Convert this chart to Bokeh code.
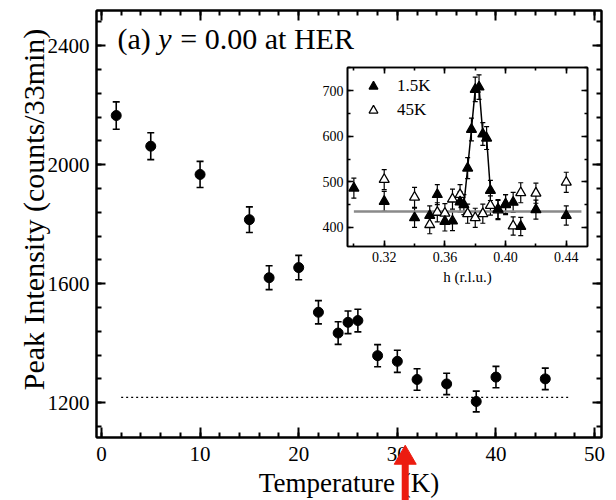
import numpy as np
from math import pi
from bokeh.plotting import figure
from bokeh.models import (ColumnDataSource, Whisker, TeeHead, LinearAxis, SingleIntervalTicker,
                          Label, Legend, LegendItem, PrintfTickFormatter)
from bokeh.embed import file_html
from bokeh.resources import INLINE
from bokeh.core.properties import value

# ---------------- data: main panel ----------------
temperature = [1.5, 5, 10, 15, 17, 20, 22, 24, 25, 26, 28, 30, 32, 35, 38, 40, 45]
intensity = [2165, 2062, 1967, 1815, 1620, 1654, 1504, 1434, 1470, 1476, 1358, 1339,
             1278, 1263, 1204, 1286, 1280]
intensity_err = [46, 45, 44, 43, 40, 41, 39, 38, 38, 38, 37, 37, 36, 36, 35, 36, 36]
background_T = [2, 47.5]
background_level = [1218, 1218]
transition_T = 30.8

# ---------------- data: inset ----------------
h_15K = [0.300, 0.320, 0.340, 0.350, 0.355, 0.360, 0.365, 0.370, 0.3725, 0.375, 0.3775,
         0.380, 0.3825, 0.385, 0.3875, 0.390, 0.395, 0.400, 0.405, 0.410, 0.420, 0.440]
cnt_15K = [486, 457, 421, 426, 472, 413, 414, 456, 450, 530, 615,
           703, 708, 605, 596, 481, 440, 450, 455, 402, 439, 426]
err_15K = [22, 22, 21, 21, 22, 21, 21, 22, 22, 23, 25,
           27, 27, 25, 25, 22, 21, 22, 22, 20, 21, 21]
h_45K = [0.320, 0.340, 0.350, 0.355, 0.360, 0.365, 0.370, 0.375, 0.380, 0.385, 0.390,
         0.395, 0.400, 0.405, 0.410, 0.420, 0.440]
cnt_45K = [505, 466, 406, 433, 431, 462, 472, 430, 421, 430, 448,
           438, 451, 403, 476, 475, 499]
err_45K = [22, 22, 20, 21, 21, 22, 22, 21, 21, 21, 21,
           21, 21, 20, 22, 22, 22]
inset_bg_h = [0.30, 0.45]
inset_bg_level = [435, 435]

FONT = "Liberation Serif"
RED = "#ec1c10"

# main frame geometry (pixels) and ranges
W, H = 616, 500
BL, BR, BT, BB = 96, 15, 10, 60
XR = (-0.5, 50.7)
YR = (1083, 2518)


def style_axis(ax, fs, tick_in, minor_in, lw, standoff):
    ax.major_tick_in = tick_in
    ax.major_tick_out = 0
    ax.minor_tick_in = minor_in
    ax.minor_tick_out = 0
    ax.axis_line_width = lw
    ax.axis_line_color = "black"
    ax.major_tick_line_width = lw
    ax.minor_tick_line_width = lw
    ax.major_tick_line_color = "black"
    ax.minor_tick_line_color = "black"
    ax.major_label_text_font = FONT
    ax.major_label_text_font_size = fs
    ax.major_label_text_color = "black"
    ax.major_label_standoff = standoff
    ax.axis_label_text_font = FONT
    ax.axis_label_text_font_style = "normal"
    ax.axis_label_text_color = "black"


def mirror(fig, ticker, side, tick_in, minor_in, lw):
    ax = LinearAxis(ticker=ticker)
    style_axis(ax, "0px", tick_in, minor_in, lw, 0)
    ax.major_label_text_alpha = 0
    fig.add_layout(ax, side)


# ---------------- main figure ----------------
p = figure(width=W, height=H, x_range=XR, y_range=YR,
           min_border_left=BL, min_border_right=BR, min_border_top=BT, min_border_bottom=BB,
           output_backend="svg", toolbar_location=None,
           background_fill_color="white", border_fill_color="white")
p.grid.visible = False
p.outline_line_color = "black"
p.outline_line_width = 2

p.xaxis.ticker = SingleIntervalTicker(interval=10, num_minor_ticks=5)
p.yaxis.ticker = SingleIntervalTicker(interval=400, num_minor_ticks=5)
style_axis(p.xaxis[0], "21px", 10, 5, 2, 9)
style_axis(p.yaxis[0], "21px", 9, 5, 2, 7)
p.xaxis.axis_label = "Temperature (K)"
p.xaxis.axis_label_text_font_size = "27px"
p.xaxis.axis_label_standoff = 4
mirror(p, SingleIntervalTicker(interval=10, num_minor_ticks=5), "above", 10, 5, 2)
mirror(p, SingleIntervalTicker(interval=400, num_minor_ticks=5), "right", 9, 5, 2)

src = ColumnDataSource(dict(
    x=temperature, y=intensity,
    lo=np.array(intensity) - np.array(intensity_err),
    hi=np.array(intensity) + np.array(intensity_err)))

p.line(background_T, background_level, line_color="black", line_width=1.3, line_dash="2 3")
p.add_layout(Whisker(base="x", lower="lo", upper="hi", source=src, line_width=1.6,
                     upper_head=TeeHead(size=7, line_width=1.6),
                     lower_head=TeeHead(size=7, line_width=1.6)))
p.scatter("x", "y", source=src, marker="circle", size=10, color="black")

# panel title
p.add_layout(Label(x=1.62, y=2368, text="(a)", text_font=FONT, text_font_size="30px",
                   text_color="black"))
p.add_layout(Label(x=5.75, y=2368, text="y", text_font=FONT, text_font_size="30px",
                   text_font_style="italic", text_color="black"))
p.add_layout(Label(x=8.0, y=2368, text="= 0.00 at HER", text_font=FONT,
                   text_font_size="30px", text_color="black"))

# ---------------- overlay sharing the main data coordinates over the whole canvas ----------------
kx = (XR[1] - XR[0]) / (W - BL - BR)
ky = (YR[1] - YR[0]) / (H - BT - BB)
ov = figure(width=W, height=H, x_range=(XR[0] - BL * kx, XR[1] + BR * kx),
            y_range=(YR[0] - BB * ky, YR[1] + BT * ky),
            min_border=0, x_axis_location=None, y_axis_location=None,
            output_backend="svg", toolbar_location=None,
            background_fill_alpha=0, border_fill_alpha=0, outline_line_alpha=0,
            styles={"position": "absolute", "left": "0px", "top": "0px"})
ov.grid.visible = False
# y-axis title
ov.text(x=[-6.9], y=[1854], text=["Peak Intensity (counts/33min)"], angle=pi / 2,
        text_align="center", text_baseline="middle", text_font=value(FONT),
        text_font_size=value("30px"), text_color="black")
# red arrow marking the transition temperature
ov.segment(x0=[transition_T], y0=[870], x1=[transition_T], y1=[1010],
           line_color=RED, line_width=7)
ov.scatter(x=[transition_T], y=[1025], marker="triangle", size=22,
           fill_color=RED, line_color=RED)

# ---------------- inset figure ----------------
inset = figure(frame_width=240, frame_height=179, x_range=(0.2958, 0.4540), y_range=(358, 751),
               min_border_left=42, min_border_right=6, min_border_top=7, min_border_bottom=44,
               output_backend="svg", toolbar_location=None,
               background_fill_alpha=0, border_fill_alpha=0,
               styles={"position": "absolute", "left": "305px", "top": "60px"})
inset.grid.visible = False
inset.outline_line_color = "black"
inset.outline_line_width = 1.6
inset.xaxis.ticker = SingleIntervalTicker(interval=0.04, num_minor_ticks=2)
inset.yaxis.ticker = SingleIntervalTicker(interval=100, num_minor_ticks=2)
inset.xaxis.formatter = PrintfTickFormatter(format="%.2f")
style_axis(inset.xaxis[0], "14px", 6, 3, 1.6, 5)
style_axis(inset.yaxis[0], "14px", 6, 3, 1.6, 4)
inset.xaxis.axis_label = "h (r.l.u.)"
inset.xaxis.axis_label_text_font_size = "15px"
inset.xaxis.axis_label_standoff = 4
mirror(inset, SingleIntervalTicker(interval=0.04, num_minor_ticks=2), "above", 6, 3, 1.6)
mirror(inset, SingleIntervalTicker(interval=100, num_minor_ticks=2), "right", 6, 3, 1.6)

s15 = ColumnDataSource(dict(x=h_15K, y=cnt_15K,
                            lo=np.array(cnt_15K) - np.array(err_15K),
                            hi=np.array(cnt_15K) + np.array(err_15K)))
s45 = ColumnDataSource(dict(x=h_45K, y=cnt_45K,
                            lo=np.array(cnt_45K) - np.array(err_45K),
                            hi=np.array(cnt_45K) + np.array(err_45K)))

inset.line(inset_bg_h, inset_bg_level, line_color="#8a8a8a", line_width=2.5)
hh = np.array(h_15K)
mask = (hh >= 0.37) & (hh <= 0.39)
inset.line(hh[mask], np.array(cnt_15K)[mask], line_color="black", line_width=1.5)
for s in (s45, s15):
    inset.add_layout(Whisker(base="x", lower="lo", upper="hi", source=s, line_width=1.2,
                             upper_head=TeeHead(size=5, line_width=1.2),
                             lower_head=TeeHead(size=5, line_width=1.2)))
r45 = inset.scatter("x", "y", source=s45, marker="triangle", size=10,
                    fill_color="white", line_color="black", line_width=1.3)
r15 = inset.scatter("x", "y", source=s15, marker="triangle", size=10,
                    fill_color="black", line_color="black", line_width=1.3)

leg = Legend(items=[LegendItem(label="1.5K", renderers=[r15]),
                    LegendItem(label="45K", renderers=[r45])],
             location="top_left", margin=0, padding=8, glyph_width=36, glyph_height=22,
             spacing=2, label_standoff=6, label_text_font=FONT, label_text_font_size="17px",
             label_text_color="black", background_fill_alpha=0, border_line_alpha=0)
inset.add_layout(leg)

open("out.html", "w").write(file_html([p, inset, ov], INLINE))
